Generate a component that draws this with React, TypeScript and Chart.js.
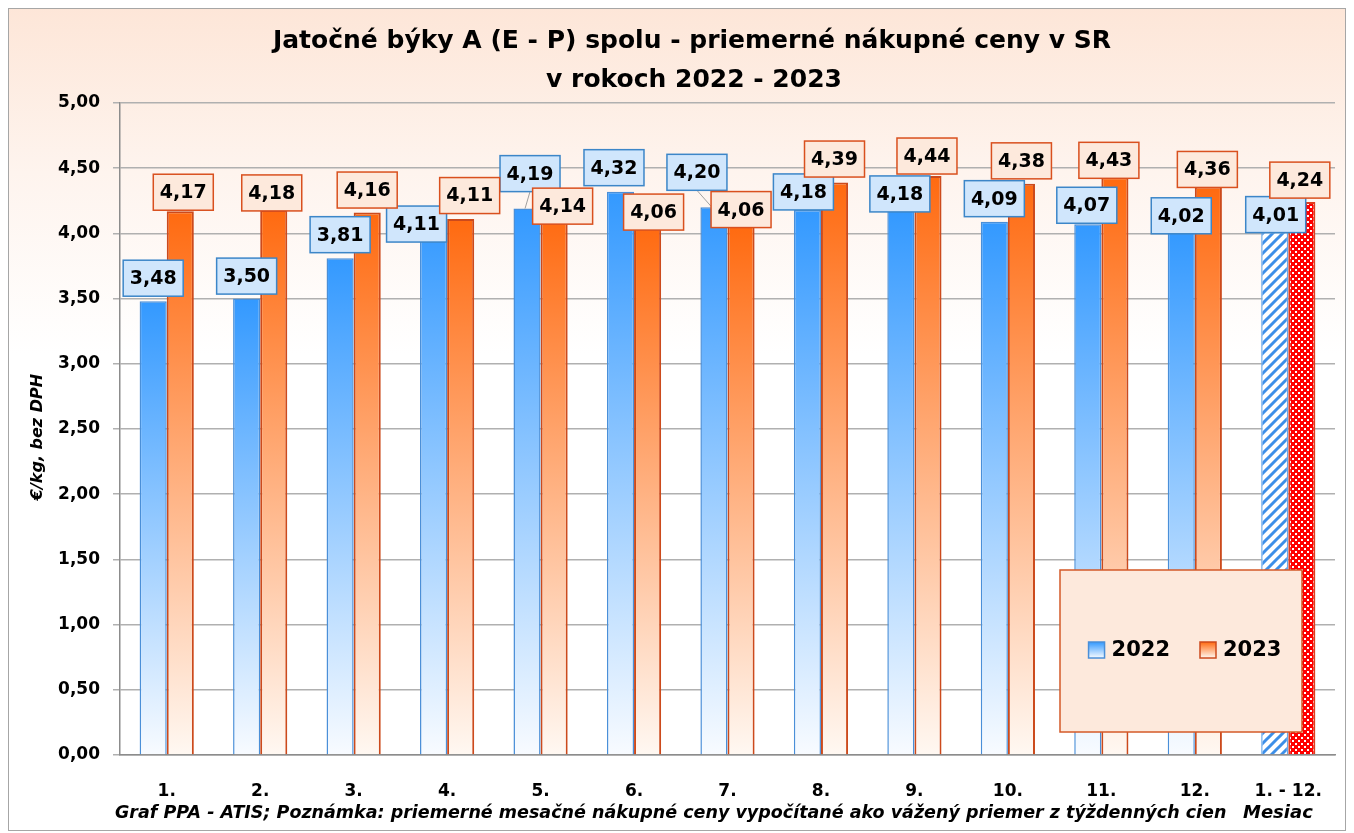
import React, { useEffect, useRef } from 'react';
import { Chart, registerables } from 'chart.js';

Chart.register(...registerables);

// ---- data ----
const months = ['1.', '2.', '3.', '4.', '5.', '6.', '7.', '8.', '9.', '10.', '11.', '12.', '1. - 12.'];
const prices2022 = [3.48, 3.5, 3.81, 4.11, 4.19, 4.32, 4.2, 4.18, 4.18, 4.09, 4.07, 4.02, 4.01];
const prices2023 = [4.17, 4.18, 4.16, 4.11, 4.14, 4.06, 4.06, 4.39, 4.44, 4.38, 4.43, 4.36, 4.24];
const seriesNames = ['2022', '2023'];
const titleLines = ['Jatočné býky A (E - P) spolu - priemerné nákupné ceny v SR', 'v rokoch 2022 - 2023'];
const yAxisTitle = '€/kg, bez DPH';
const footerNote = 'Graf PPA - ATIS; Poznámka: priemerné mesačné nákupné ceny vypočítané ako vážený priemer z týždenných cien';
const xAxisTitle = 'Mesiac';

// label-box nudges (px) of the box centre relative to the bar's top centre
const nudge2022 = [[0, -23], [0, -22.5], [0, -23.5], [-17, 5], [3, -35], [-6.5, -24], [-17, -35], [-4, -18], [-1, -16], [0, -23], [-1, -19], [0, -15], [1, -17.5]];
const nudge2023 = [[3, -19], [-2, -17], [0, -22.5], [9, -23.5], [8.5, -9], [6, -13.5], [0, -16], [0, -23.5], [-1, -20], [0, -23], [-6, -17], [-1, -17], [-2, -22]];

const FONT = '"DejaVu Sans", Verdana, sans-serif';
const fmt = (v: number) => v.toFixed(2).replace('.', ',');

const STYLE = [
  { top: '#3399ff', bottom: '#f8fbff', border: '#4a8fd8', boxFill: '#d0e6fc', boxBorder: '#3c86c8', patBorder: '#6aa8e8' },
  { top: '#ff6a10', bottom: '#fff8f2', border: '#cc4a1c', boxFill: '#fde9dc', boxBorder: '#d9501e', patBorder: '#e03c1e' },
];

function makeStripePattern(): CanvasPattern | string {
  const c = document.createElement('canvas');
  c.width = 10; c.height = 10;
  const x = c.getContext('2d');
  if (!x) return '#3399ff';
  x.fillStyle = '#ffffff'; x.fillRect(0, 0, 10, 10);
  x.strokeStyle = '#3d8fe8'; x.lineWidth = 3;
  x.beginPath();
  x.moveTo(-2, 12); x.lineTo(12, -2);
  x.moveTo(-2, 2); x.lineTo(2, -2);
  x.moveTo(8, 12); x.lineTo(12, 8);
  x.stroke();
  const p = x.createPattern(c, 'repeat');
  return p || '#3399ff';
}

function makeCheckPattern(): CanvasPattern | string {
  const c = document.createElement('canvas');
  c.width = 6; c.height = 6;
  const x = c.getContext('2d');
  if (!x) return '#ff0000';
  x.fillStyle = '#ff0000'; x.fillRect(0, 0, 6, 6);
  x.fillStyle = '#ffffff';
  x.fillRect(0, 0, 2, 2);
  x.fillRect(3, 3, 2, 2);
  const p = x.createPattern(c, 'repeat');
  return p || '#ff0000';
}

const decorPlugin = {
  id: 'decor',
  beforeDraw(chart: any) {
    const { ctx, width, height } = chart;
    ctx.save();
    const g = ctx.createLinearGradient(0, 0, 0, height);
    g.addColorStop(0, '#fde6d8');
    g.addColorStop(0.2, '#fef4ee');
    g.addColorStop(0.42, '#ffffff');
    g.addColorStop(1, '#ffffff');
    ctx.fillStyle = g;
    ctx.fillRect(0, 0, width, height);
    ctx.strokeStyle = '#a6a6a6';
    ctx.lineWidth = 1;
    ctx.strokeRect(0.5, 0.5, width - 1, height - 1);

    ctx.fillStyle = '#000';
    ctx.textAlign = 'center';
    ctx.textBaseline = 'alphabetic';
    ctx.font = `bold 25px ${FONT}`;
    ctx.fillText(titleLines[0], 684, 40);
    ctx.fillText(titleLines[1], 686, 79);

    ctx.font = `italic bold 16px ${FONT}`;
    ctx.save();
    ctx.translate(30, 429);
    ctx.rotate(-Math.PI / 2);
    ctx.textBaseline = 'middle';
    ctx.fillText(yAxisTitle, 0, 0);
    ctx.restore();

    ctx.textAlign = 'left';
    ctx.font = `italic bold 17.5px ${FONT}`;
    ctx.fillText(footerNote, 107, 810);
    ctx.font = `italic bold 18px ${FONT}`;
    ctx.fillText(xAxisTitle, 1235, 810);
    ctx.restore();
  },
  afterDatasetsDraw(chart: any) {
    const { ctx } = chart;
    ctx.save();
    const nudges = [nudge2022, nudge2023];
    chart.data.datasets.forEach((ds: any, di: number) => {
      const meta = chart.getDatasetMeta(di);
      const st = STYLE[di];
      meta.data.forEach((el: any, i: number) => {
        const [dx, dy] = nudges[di][i];
        const cx = el.x + dx;
        const cy = el.y + dy;
        const w = 60, h = 36;
        if (dy < -26) {
          ctx.strokeStyle = '#a0a0a0';
          ctx.lineWidth = 1;
          ctx.beginPath();
          ctx.moveTo(cx, cy + h / 2);
          ctx.lineTo(el.x - 2, el.y);
          ctx.stroke();
        }
        ctx.fillStyle = st.boxFill;
        ctx.fillRect(cx - w / 2, cy - h / 2, w, h);
        ctx.strokeStyle = st.boxBorder;
        ctx.lineWidth = 1.5;
        ctx.strokeRect(cx - w / 2, cy - h / 2, w, h);
        ctx.fillStyle = '#000';
        ctx.font = `bold 19px ${FONT}`;
        ctx.textAlign = 'center';
        ctx.textBaseline = 'middle';
        ctx.fillText(fmt(ds.data[i]), cx, cy + 1);
      });
    });
    ctx.restore();
  },
  afterDraw(chart: any) {
    const { ctx } = chart;
    ctx.save();
    const bx = 1052, by = 562, bw = 242, bh = 162;
    ctx.fillStyle = '#fde9dc';
    ctx.fillRect(bx, by, bw, bh);
    ctx.strokeStyle = '#d45a28';
    ctx.lineWidth = 1.5;
    ctx.strokeRect(bx, by, bw, bh);
    ctx.font = `bold 21px ${FONT}`;
    ctx.textBaseline = 'middle';
    ctx.textAlign = 'left';
    const sq = 16, gap = 7, itemGap = 30;
    const items = chart.data.datasets.map((d: any) => d.label);
    const widths = items.map((t: string) => sq + gap + ctx.measureText(t).width);
    const total = widths.reduce((a: number, b: number) => a + b, 0) + itemGap * (items.length - 1);
    let x = bx + (bw - total) / 2 + 4;
    const cy = by + bh / 2 - 1;
    items.forEach((t: string, i: number) => {
      const st = STYLE[i];
      const g = ctx.createLinearGradient(0, cy - sq / 2, 0, cy + sq / 2);
      g.addColorStop(0, st.top);
      g.addColorStop(1, st.bottom);
      ctx.fillStyle = g;
      ctx.fillRect(x, cy - sq / 2, sq, sq);
      ctx.strokeStyle = st.border;
      ctx.lineWidth = 1.5;
      ctx.strokeRect(x, cy - sq / 2, sq, sq);
      ctx.fillStyle = '#000';
      ctx.fillText(t, x + sq + gap, cy + 1);
      x += widths[i] + itemGap;
    });
    ctx.restore();
  },
};

export default function App() {
  const ref = useRef<HTMLCanvasElement | null>(null);
  useEffect(() => {
    if (!ref.current) return;
    const patterns = [makeStripePattern(), makeCheckPattern()];
    const lastIdx = months.length - 1;
    const fill = (si: number) => (c: any) => {
      const st = STYLE[si];
      if (c.type !== 'data') return st.top;
      if (c.dataIndex === lastIdx) return patterns[si];
      const chart = c.chart;
      const a = chart.chartArea;
      if (!a) return st.top;
      const yTop = chart.scales.y.getPixelForValue(c.raw);
      const g = chart.ctx.createLinearGradient(0, yTop, 0, a.bottom);
      g.addColorStop(0, st.top);
      g.addColorStop(1, st.bottom);
      return g;
    };
    const border = (si: number) => (c: any) => (c.dataIndex === lastIdx ? STYLE[si].patBorder : STYLE[si].border);
    const chart = new Chart(ref.current, {
      type: 'bar',
      data: {
        labels: months,
        datasets: [
          { label: seriesNames[0], data: prices2022, backgroundColor: fill(0), borderColor: border(0), borderWidth: 1.5 },
          { label: seriesNames[1], data: prices2023, backgroundColor: fill(1), borderColor: border(1), borderWidth: 2 },
        ],
      },
      options: {
        responsive: false,
        animation: false,
        layout: { padding: { top: 95, right: 11, left: 0, bottom: 0 } },
        datasets: { bar: { categoryPercentage: 0.58, barPercentage: 1 } },
        plugins: { legend: { display: false }, title: { display: false }, tooltip: { enabled: false } },
        scales: {
          x: {
            grid: { display: false },
            border: { display: true, color: '#8c8c8c', width: 1.5 },
            ticks: { color: '#000', font: { family: FONT, weight: 'bold', size: 17 }, padding: 18, maxRotation: 0, autoSkip: false },
            afterFit: (s: any) => { s.height = 76; },
          },
          y: {
            min: 0,
            max: 5,
            ticks: { stepSize: 0.5, color: '#000', font: { family: FONT, weight: 'bold', size: 17 }, padding: 13, callback: (v: any) => fmt(Number(v)) },
            grid: { color: '#b0b0b0', lineWidth: 1.5, tickLength: 7, drawTicks: true },
            border: { display: true, color: '#8c8c8c', width: 1.5 },
            afterFit: (s: any) => { s.width = 112; },
          },
        },
      },
      plugins: [decorPlugin],
    } as any);
    return () => chart.destroy();
  }, []);
  return (
    <div style={{ width: 1338, height: 823 }}>
      <canvas ref={ref} width={1338} height={823} style={{ display: 'block' }} />
    </div>
  );
}
